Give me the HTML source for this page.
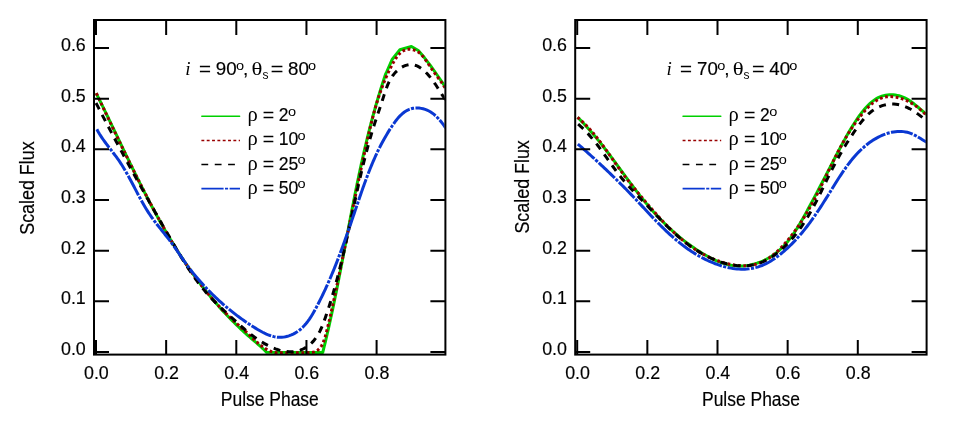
<!DOCTYPE html>
<html><head><meta charset="utf-8"><title>Pulse profiles</title>
<style>
html,body{margin:0;padding:0;background:#fff;}
svg{display:block;}
text{font-family:"Liberation Sans",sans-serif;font-size:19px;fill:#000;stroke:#000;stroke-width:0.18px;filter:grayscale(1);}
text.si{font-family:"Liberation Serif",serif;font-style:italic;font-size:19px;stroke:none;}
text.sr{font-family:"Liberation Serif",serif;font-size:19px;stroke:none;}
text.sm{font-size:13px;stroke:none;}
text.lb{font-size:19.5px;}
</style></head>
<body>
<svg  width="969" height="424" viewBox="0 0 969 424">
<rect width="969" height="424" fill="#fff"/>
<defs>
<clipPath id="cl"><rect x="93" y="19" width="351.6" height="336.6"/></clipPath>
<clipPath id="cr"><rect x="574.2" y="19" width="351.6" height="336.6"/></clipPath>
</defs>
<g clip-path="url(#cl)">
<path d="M96.21 93.29 L97.11 95.08 L98.00 96.88 L98.90 98.68 L99.79 100.48 L100.68 102.28 L101.56 104.08 L102.45 105.89 L103.33 107.70 L104.21 109.51 L105.10 111.32 L105.98 113.13 L106.85 114.94 L107.73 116.76 L108.61 118.57 L109.48 120.39 L110.36 122.21 L111.23 124.03 L112.11 125.85 L112.98 127.67 L113.85 129.49 L114.73 131.31 L115.60 133.13 L116.47 134.96 L117.34 136.78 L118.22 138.60 L119.09 140.43 L119.96 142.25 L120.83 144.08 L121.71 145.90 L122.58 147.73 L123.46 149.55 L124.33 151.38 L125.21 153.20 L126.09 155.03 L126.97 156.85 L127.85 158.67 L128.73 160.50 L129.61 162.32 L130.50 164.14 L131.38 165.96 L132.27 167.78 L133.16 169.60 L134.05 171.42 L134.94 173.24 L135.84 175.06 L136.74 176.87 L137.64 178.69 L138.54 180.50 L139.44 182.32 L140.35 184.13 L141.26 185.94 L142.17 187.74 L143.09 189.55 L144.01 191.35 L144.93 193.16 L145.85 194.96 L146.78 196.76 L147.71 198.55 L148.65 200.35 L149.58 202.14 L150.53 203.93 L151.47 205.72 L152.42 207.51 L153.37 209.29 L154.33 211.07 L155.29 212.85 L156.26 214.63 L157.23 216.40 L158.20 218.17 L159.18 219.94 L160.17 221.70 L161.15 223.46 L162.15 225.22 L163.14 226.98 L164.15 228.73 L165.15 230.48 L166.17 232.23 L167.19 233.97 L168.21 235.71 L169.24 237.44 L170.27 239.18 L171.32 240.90 L172.36 242.63 L173.41 244.35 L174.47 246.07 L175.54 247.78 L176.61 249.49 L177.68 251.19 L178.77 252.89 L179.86 254.59 L180.95 256.28 L182.06 257.97 L183.17 259.65 L184.28 261.33 L185.41 263.00 L186.54 264.67 L187.67 266.33 L188.82 267.99 L189.97 269.65 L191.13 271.30 L192.30 272.94 L193.47 274.58 L194.66 276.21 L195.85 277.84 L197.04 279.47 L198.25 281.08 L199.46 282.69 L200.68 284.30 L201.91 285.90 L203.15 287.49 L204.39 289.08 L205.64 290.66 L206.90 292.24 L208.17 293.81 L209.45 295.37 L210.73 296.93 L212.03 298.48 L213.33 300.02 L214.63 301.56 L215.95 303.08 L217.28 304.61 L218.61 306.12 L219.95 307.63 L221.30 309.13 L222.66 310.62 L224.03 312.11 L225.41 313.58 L226.79 315.05 L228.18 316.52 L229.59 317.97 L231.00 319.41 L232.42 320.85 L233.85 322.28 L235.28 323.70 L236.73 325.12 L238.18 326.52 L239.65 327.92 L241.12 329.30 L242.60 330.68 L244.09 332.05 L245.59 333.41 L247.10 334.76 L248.62 336.10 L250.14 337.43 L251.68 338.76 L253.21 340.09 L254.75 341.41 L256.28 342.74 L257.80 344.07 L259.32 345.41 L260.82 346.76 L262.31 348.13 L263.78 349.51 L265.23 350.92 L266.66 352.34 L322.69 352.59 L323.18 350.64 L323.67 348.68 L324.15 346.73 L324.63 344.77 L325.10 342.81 L325.57 340.85 L326.03 338.89 L326.50 336.93 L326.95 334.97 L327.41 333.01 L327.86 331.05 L328.31 329.08 L328.75 327.12 L329.20 325.15 L329.63 323.18 L330.07 321.22 L330.50 319.25 L330.93 317.28 L331.36 315.31 L331.78 313.34 L332.20 311.37 L332.62 309.39 L333.04 307.42 L333.45 305.45 L333.86 303.48 L334.27 301.50 L334.68 299.53 L335.08 297.55 L335.48 295.57 L335.88 293.60 L336.28 291.62 L336.68 289.64 L337.07 287.67 L337.47 285.69 L337.86 283.71 L338.25 281.73 L338.63 279.75 L339.02 277.77 L339.41 275.79 L339.79 273.81 L340.17 271.83 L340.56 269.85 L340.94 267.86 L341.32 265.88 L341.69 263.90 L342.07 261.92 L342.45 259.93 L342.83 257.95 L343.20 255.97 L343.58 253.99 L343.95 252.00 L344.33 250.02 L344.70 248.04 L345.08 246.05 L345.45 244.07 L345.82 242.09 L346.20 240.10 L346.57 238.12 L346.94 236.14 L347.32 234.15 L347.69 232.17 L348.07 230.19 L348.44 228.20 L348.82 226.22 L349.20 224.24 L349.57 222.25 L349.95 220.27 L350.33 218.29 L350.71 216.31 L351.09 214.32 L351.47 212.34 L351.85 210.36 L352.24 208.38 L352.62 206.40 L353.01 204.42 L353.40 202.44 L353.78 200.46 L354.18 198.48 L354.57 196.50 L354.96 194.52 L355.36 192.54 L355.76 190.56 L356.16 188.59 L356.56 186.61 L356.96 184.63 L357.37 182.66 L357.77 180.68 L358.19 178.71 L358.60 176.73 L359.01 174.76 L359.43 172.79 L359.85 170.82 L360.27 168.84 L360.70 166.87 L361.13 164.90 L361.56 162.93 L362.00 160.96 L362.43 159.00 L362.87 157.03 L363.32 155.06 L363.77 153.10 L364.22 151.13 L364.67 149.17 L365.13 147.20 L365.59 145.24 L366.05 143.28 L366.52 141.32 L366.99 139.36 L367.47 137.40 L367.95 135.44 L368.43 133.49 L368.92 131.53 L369.41 129.58 L369.91 127.62 L370.41 125.67 L370.92 123.72 L371.43 121.77 L371.94 119.82 L372.46 117.87 L372.98 115.92 L373.51 113.98 L374.05 112.03 L374.58 110.09 L375.13 108.15 L375.67 106.21 L376.23 104.27 L376.79 102.33 L377.35 100.39 L377.92 98.46 L378.49 96.52 L379.07 94.59 L379.66 92.66 L380.25 90.73 L380.85 88.80 L381.45 86.87 L382.06 84.95 L382.68 83.02 L383.30 81.10 L383.92 79.18 L384.56 77.26 L385.20 75.34 L385.84 73.42 L386.00 73.50 L392.30 59.20 L399.90 49.80 L411.40 46.50 L418.30 50.50 L424.50 57.80 L430.50 65.60 L437.50 75.50 L444.30 85.50 L446.00 88.00" fill="none" stroke="#00d000" stroke-width="3.0" stroke-linejoin="round"/>
<path d="M96.30 93.20 L97.17 95.02 L98.03 96.85 L98.90 98.67 L99.77 100.49 L100.64 102.31 L101.50 104.14 L102.37 105.96 L103.24 107.78 L104.10 109.60 L104.97 111.43 L105.84 113.25 L106.70 115.07 L107.57 116.89 L108.44 118.71 L109.30 120.54 L110.17 122.36 L111.04 124.18 L111.91 126.00 L112.78 127.82 L113.65 129.64 L114.52 131.46 L115.39 133.28 L116.26 135.10 L117.14 136.92 L118.01 138.73 L118.89 140.55 L119.76 142.37 L120.64 144.18 L121.52 146.00 L122.40 147.81 L123.28 149.63 L124.16 151.44 L125.05 153.26 L125.93 155.07 L126.82 156.88 L127.71 158.69 L128.60 160.50 L129.49 162.31 L130.38 164.12 L131.28 165.93 L132.17 167.73 L133.07 169.54 L133.97 171.34 L134.88 173.15 L135.78 174.95 L136.69 176.75 L137.60 178.55 L138.51 180.35 L139.42 182.15 L140.34 183.95 L141.26 185.75 L142.18 187.54 L143.10 189.33 L144.03 191.13 L144.96 192.92 L145.89 194.71 L146.83 196.50 L147.76 198.28 L148.70 200.07 L149.65 201.85 L150.59 203.64 L151.54 205.42 L152.50 207.20 L153.45 208.98 L154.41 210.76 L155.37 212.53 L156.34 214.31 L157.31 216.08 L158.28 217.85 L159.26 219.62 L160.24 221.39 L161.22 223.15 L162.21 224.91 L163.20 226.68 L164.20 228.43 L165.20 230.19 L166.20 231.95 L167.21 233.70 L168.23 235.44 L169.25 237.19 L170.27 238.93 L171.30 240.67 L172.34 242.41 L173.38 244.14 L174.43 245.86 L175.48 247.59 L176.54 249.31 L177.60 251.02 L178.67 252.73 L179.75 254.44 L180.83 256.14 L181.93 257.84 L183.02 259.53 L184.13 261.22 L185.24 262.90 L186.36 264.57 L187.49 266.24 L188.62 267.91 L189.76 269.56 L190.91 271.22 L192.07 272.86 L193.24 274.50 L194.41 276.13 L195.60 277.76 L196.79 279.38 L197.99 280.99 L199.20 282.60 L200.42 284.19 L201.65 285.78 L202.89 287.37 L204.14 288.94 L205.39 290.51 L206.66 292.07 L207.94 293.62 L209.23 295.16 L210.52 296.70 L211.83 298.22 L213.15 299.74 L214.48 301.25 L215.82 302.75 L217.17 304.23 L218.53 305.71 L219.91 307.18 L221.29 308.65 L222.69 310.10 L224.10 311.54 L225.52 312.97 L226.95 314.39 L228.40 315.80 L229.86 317.20 L231.33 318.59 L232.81 319.96 L234.31 321.33 L235.81 322.69 L237.32 324.05 L238.84 325.40 L240.36 326.75 L241.87 328.11 L243.39 329.47 L244.89 330.84 L246.39 332.22 L247.88 333.61 L249.35 335.02 L250.82 336.42 L252.29 337.83 L253.76 339.23 L255.24 340.61 L256.73 341.96 L258.23 343.29 L259.76 344.57 L261.31 345.81 L262.89 346.99 L264.51 348.10 L266.17 349.12 L267.89 350.05 L269.67 350.88 L271.51 351.59 L273.42 352.16 L275.41 352.60 L277.48 352.89 L309.81 352.61 L312.16 352.40 L314.25 351.91 L316.09 351.15 L317.71 350.16 L319.13 348.96 L320.37 347.57 L321.45 346.02 L322.39 344.33 L323.21 342.53 L323.94 340.63 L324.58 338.68 L325.18 336.68 L325.73 334.67 L326.27 332.66 L326.80 330.66 L327.31 328.67 L327.81 326.68 L328.30 324.70 L328.78 322.73 L329.25 320.75 L329.71 318.79 L330.16 316.82 L330.60 314.86 L331.04 312.90 L331.47 310.94 L331.90 308.99 L332.33 307.03 L332.75 305.07 L333.17 303.12 L333.59 301.16 L334.01 299.20 L334.43 297.24 L334.84 295.28 L335.26 293.32 L335.67 291.36 L336.09 289.40 L336.50 287.43 L336.92 285.47 L337.33 283.50 L337.74 281.54 L338.15 279.57 L338.56 277.60 L338.97 275.63 L339.38 273.66 L339.79 271.69 L340.20 269.72 L340.61 267.75 L341.01 265.78 L341.42 263.81 L341.83 261.84 L342.24 259.86 L342.64 257.89 L343.05 255.92 L343.45 253.94 L343.86 251.97 L344.26 249.99 L344.67 248.02 L345.07 246.04 L345.48 244.06 L345.88 242.09 L346.29 240.11 L346.69 238.13 L347.10 236.15 L347.50 234.18 L347.91 232.20 L348.31 230.22 L348.72 228.24 L349.12 226.26 L349.53 224.28 L349.93 222.31 L350.34 220.33 L350.74 218.35 L351.15 216.37 L351.56 214.39 L351.96 212.41 L352.37 210.43 L352.78 208.46 L353.19 206.48 L353.60 204.50 L354.00 202.52 L354.41 200.54 L354.82 198.57 L355.23 196.59 L355.65 194.61 L356.06 192.63 L356.47 190.66 L356.88 188.68 L357.30 186.70 L357.71 184.73 L358.13 182.75 L358.54 180.78 L358.96 178.80 L359.38 176.83 L359.79 174.86 L360.21 172.88 L360.63 170.91 L361.05 168.94 L361.48 166.97 L361.90 165.00 L362.32 163.03 L362.75 161.06 L363.17 159.09 L363.60 157.12 L364.03 155.15 L364.46 153.19 L364.89 151.22 L365.32 149.25 L365.76 147.29 L366.19 145.33 L366.63 143.36 L367.06 141.40 L367.50 139.44 L367.94 137.48 L368.39 135.52 L368.83 133.56 L369.28 131.61 L369.74 129.65 L370.20 127.70 L370.66 125.75 L371.14 123.80 L371.61 121.85 L372.10 119.90 L372.60 117.96 L373.10 116.02 L373.61 114.08 L374.13 112.14 L374.67 110.20 L375.21 108.27 L375.77 106.34 L376.33 104.41 L376.92 102.49 L377.51 100.57 L378.12 98.65 L378.74 96.73 L379.38 94.82 L380.03 92.91 L380.70 91.00 L381.39 89.10 L382.10 87.20 L382.82 85.31 L383.56 83.42 L384.32 81.53 L385.11 79.65 L385.91 77.77 L386.73 75.89 L387.58 74.02 L388.44 72.16 L389.34 70.30 L390.25 68.44 L391.19 66.59 L392.15 64.74 L393.14 62.90 L394.17 61.08 L395.23 59.32 L396.35 57.62 L397.53 56.02 L398.77 54.53 L400.10 53.18 L401.51 52.00 L403.02 51.00 L404.64 50.20 L406.37 49.65 L408.22 49.34 L410.21 49.31 L412.31 49.57 L414.43 50.12 L416.46 50.94 L418.31 52.02 L419.97 53.31 L421.47 54.75 L422.85 56.31 L424.13 57.91 L425.34 59.54 L426.49 61.18 L427.61 62.83 L428.70 64.48 L429.80 66.14 L430.91 67.79 L432.05 69.43 L433.21 71.06 L434.39 72.69 L435.58 74.32 L436.78 75.94 L437.98 77.57 L439.18 79.20 L440.37 80.84 L441.54 82.49 L442.69 84.15 L443.82 85.82 L444.91 87.51 L445.97 89.21" fill="none" stroke="#990000" stroke-width="3.0" stroke-dasharray="2.8 2.53" stroke-linejoin="round"/>
<path d="M95.69 102.29 L96.61 104.09 L97.53 105.88 L98.45 107.67 L99.37 109.46 L100.29 111.25 L101.22 113.04 L102.14 114.82 L103.07 116.61 L104.00 118.39 L104.93 120.18 L105.86 121.96 L106.79 123.74 L107.73 125.52 L108.66 127.30 L109.60 129.08 L110.54 130.86 L111.48 132.64 L112.42 134.41 L113.36 136.19 L114.30 137.97 L115.25 139.74 L116.19 141.51 L117.14 143.29 L118.09 145.06 L119.04 146.83 L119.99 148.60 L120.94 150.37 L121.90 152.14 L122.85 153.91 L123.81 155.67 L124.77 157.44 L125.72 159.21 L126.68 160.97 L127.65 162.74 L128.61 164.50 L129.57 166.26 L130.54 168.03 L131.50 169.79 L132.47 171.55 L133.44 173.31 L134.41 175.07 L135.38 176.83 L136.35 178.59 L137.32 180.34 L138.30 182.10 L139.27 183.86 L140.25 185.61 L141.23 187.37 L142.21 189.12 L143.19 190.88 L144.17 192.63 L145.15 194.39 L146.13 196.14 L147.12 197.89 L148.10 199.64 L149.09 201.39 L150.08 203.15 L151.06 204.90 L152.05 206.65 L153.05 208.40 L154.04 210.14 L155.03 211.89 L156.02 213.64 L157.02 215.39 L158.02 217.14 L159.01 218.88 L160.01 220.63 L161.01 222.37 L162.01 224.12 L163.01 225.87 L164.01 227.61 L165.02 229.35 L166.02 231.10 L167.03 232.84 L168.03 234.59 L169.04 236.33 L170.05 238.07 L171.06 239.81 L172.07 241.56 L173.08 243.30 L174.09 245.04 L175.11 246.78 L176.13 248.52 L177.15 250.25 L178.17 251.98 L179.20 253.71 L180.24 255.44 L181.28 257.16 L182.33 258.88 L183.38 260.59 L184.45 262.30 L185.52 264.01 L186.60 265.70 L187.68 267.39 L188.78 269.08 L189.89 270.75 L191.01 272.42 L192.14 274.08 L193.28 275.73 L194.44 277.37 L195.60 279.01 L196.79 280.63 L197.98 282.24 L199.19 283.85 L200.42 285.44 L201.66 287.02 L202.92 288.59 L204.20 290.14 L205.49 291.68 L206.80 293.21 L208.13 294.73 L209.48 296.23 L210.85 297.72 L212.24 299.19 L213.65 300.65 L215.08 302.09 L216.52 303.52 L217.98 304.94 L219.45 306.35 L220.92 307.74 L222.40 309.12 L223.89 310.50 L225.37 311.86 L226.86 313.22 L228.34 314.57 L229.81 315.91 L231.28 317.24 L232.73 318.57 L234.18 319.90 L235.61 321.22 L237.04 322.53 L238.48 323.84 L239.91 325.14 L241.35 326.43 L242.81 327.72 L244.27 329.00 L245.76 330.27 L247.27 331.53 L248.80 332.78 L250.36 334.03 L251.96 335.26 L253.59 336.48 L255.26 337.69 L256.97 338.89 L258.71 340.06 L260.49 341.21 L262.29 342.32 L264.12 343.40 L265.97 344.43 L267.84 345.42 L269.73 346.36 L271.64 347.24 L273.56 348.05 L275.48 348.81 L277.42 349.48 L279.36 350.09 L281.31 350.61 L283.25 351.04 L285.19 351.38 L287.13 351.62 L289.05 351.77 L290.97 351.80 L292.88 351.72 L294.76 351.53 L296.63 351.21 L298.48 350.77 L300.30 350.20 L302.10 349.48 L303.87 348.63 L305.60 347.65 L307.28 346.54 L308.91 345.32 L310.46 344.01 L311.94 342.60 L313.34 341.13 L314.64 339.59 L315.85 337.98 L316.98 336.33 L318.03 334.62 L319.02 332.88 L319.94 331.09 L320.81 329.27 L321.63 327.41 L322.40 325.54 L323.15 323.64 L323.86 321.73 L324.56 319.82 L325.23 317.89 L325.90 315.97 L326.56 314.04 L327.21 312.12 L327.85 310.20 L328.48 308.27 L329.10 306.34 L329.72 304.42 L330.32 302.49 L330.92 300.56 L331.51 298.63 L332.09 296.71 L332.67 294.78 L333.23 292.85 L333.79 290.92 L334.34 288.98 L334.89 287.05 L335.43 285.12 L335.96 283.19 L336.49 281.25 L337.01 279.32 L337.52 277.38 L338.03 275.44 L338.54 273.50 L339.03 271.57 L339.53 269.63 L340.01 267.69 L340.50 265.74 L340.97 263.80 L341.45 261.86 L341.92 259.91 L342.38 257.97 L342.84 256.02 L343.30 254.07 L343.76 252.12 L344.21 250.17 L344.65 248.22 L345.10 246.27 L345.54 244.32 L345.98 242.36 L346.42 240.41 L346.85 238.45 L347.28 236.49 L347.72 234.53 L348.14 232.57 L348.57 230.60 L349.00 228.64 L349.42 226.68 L349.85 224.71 L350.27 222.74 L350.69 220.77 L351.12 218.80 L351.54 216.83 L351.96 214.86 L352.38 212.89 L352.81 210.92 L353.23 208.94 L353.65 206.97 L354.07 205.00 L354.50 203.02 L354.93 201.05 L355.35 199.08 L355.78 197.11 L356.21 195.13 L356.64 193.16 L357.08 191.19 L357.51 189.22 L357.95 187.24 L358.39 185.27 L358.83 183.30 L359.28 181.34 L359.73 179.37 L360.18 177.40 L360.64 175.44 L361.09 173.47 L361.56 171.51 L362.02 169.55 L362.49 167.59 L362.97 165.63 L363.45 163.67 L363.93 161.72 L364.42 159.77 L364.91 157.82 L365.40 155.87 L365.91 153.92 L366.42 151.98 L366.93 150.04 L367.45 148.10 L367.97 146.16 L368.50 144.23 L369.04 142.30 L369.58 140.37 L370.13 138.44 L370.69 136.52 L371.25 134.60 L371.82 132.69 L372.40 130.77 L372.98 128.86 L373.58 126.96 L374.18 125.06 L374.78 123.16 L375.40 121.26 L376.02 119.37 L376.65 117.48 L377.28 115.59 L377.92 113.70 L378.56 111.80 L379.20 109.90 L379.84 108.00 L380.48 106.09 L381.12 104.17 L381.76 102.24 L382.40 100.30 L383.03 98.35 L383.66 96.39 L384.28 94.42 L384.92 92.45 L385.58 90.49 L386.27 88.54 L387.00 86.60 L387.77 84.69 L388.61 82.81 L389.50 80.97 L390.48 79.17 L391.53 77.43 L392.68 75.74 L393.93 74.11 L395.29 72.56 L396.75 71.10 L398.28 69.74 L399.89 68.50 L401.57 67.40 L403.29 66.45 L405.05 65.68 L406.84 65.09 L408.64 64.71 L410.44 64.54 L412.24 64.61 L414.02 64.92 L415.78 65.46 L417.52 66.19 L419.23 67.11 L420.91 68.20 L422.56 69.43 L424.16 70.79 L425.73 72.26 L427.25 73.82 L428.72 75.45 L430.14 77.14 L431.50 78.86 L432.80 80.60 L434.04 82.33 L435.23 84.05 L436.36 85.77 L437.46 87.47 L438.53 89.16 L439.59 90.83 L440.63 92.48 L441.67 94.10 L442.71 95.71 L443.78 97.28 L444.87 98.82 L445.99 100.33" fill="none" stroke="#000" stroke-width="3.0" stroke-dasharray="7 6.37" stroke-dashoffset="-0.8"/>
<path d="M96.69 128.95 L97.63 130.72 L98.62 132.47 L99.66 134.20 L100.73 135.89 L101.84 137.57 L102.98 139.23 L104.14 140.87 L105.33 142.50 L106.53 144.11 L107.75 145.72 L108.98 147.32 L110.22 148.92 L111.46 150.52 L112.69 152.11 L113.92 153.72 L115.14 155.32 L116.34 156.94 L117.52 158.57 L118.69 160.22 L119.82 161.88 L120.93 163.56 L122.02 165.25 L123.08 166.95 L124.13 168.67 L125.15 170.40 L126.16 172.14 L127.16 173.89 L128.14 175.65 L129.11 177.41 L130.07 179.18 L131.02 180.96 L131.96 182.74 L132.90 184.52 L133.83 186.31 L134.76 188.09 L135.69 189.88 L136.62 191.66 L137.56 193.44 L138.50 195.22 L139.44 196.99 L140.40 198.76 L141.36 200.52 L142.34 202.28 L143.32 204.02 L144.32 205.76 L145.34 207.48 L146.38 209.20 L147.43 210.89 L148.51 212.58 L149.61 214.25 L150.73 215.90 L151.87 217.54 L153.05 219.16 L154.24 220.77 L155.44 222.37 L156.67 223.96 L157.90 225.54 L159.15 227.11 L160.40 228.68 L161.65 230.25 L162.91 231.81 L164.17 233.38 L165.42 234.94 L166.67 236.52 L167.91 238.10 L169.14 239.68 L170.35 241.28 L171.55 242.89 L172.73 244.51 L173.89 246.14 L175.05 247.78 L176.19 249.42 L177.32 251.07 L178.45 252.73 L179.58 254.39 L180.71 256.05 L181.84 257.70 L182.97 259.36 L184.12 261.01 L185.27 262.65 L186.44 264.29 L187.62 265.92 L188.82 267.53 L190.03 269.14 L191.26 270.74 L192.51 272.32 L193.77 273.90 L195.04 275.46 L196.33 277.01 L197.64 278.55 L198.96 280.09 L200.29 281.60 L201.63 283.11 L202.99 284.61 L204.36 286.09 L205.74 287.57 L207.14 289.03 L208.54 290.48 L209.96 291.91 L211.39 293.34 L212.83 294.75 L214.28 296.15 L215.74 297.54 L217.20 298.91 L218.68 300.28 L220.17 301.62 L221.67 302.96 L223.17 304.28 L224.68 305.59 L226.20 306.89 L227.73 308.17 L229.26 309.44 L230.81 310.70 L232.36 311.94 L233.92 313.17 L235.49 314.39 L237.08 315.59 L238.67 316.79 L240.28 317.97 L241.90 319.14 L243.54 320.30 L245.19 321.44 L246.85 322.58 L248.53 323.71 L250.23 324.82 L251.95 325.92 L253.68 327.02 L255.44 328.10 L257.21 329.18 L259.00 330.23 L260.81 331.25 L262.63 332.23 L264.48 333.16 L266.33 334.02 L268.21 334.81 L270.09 335.51 L271.99 336.11 L273.91 336.61 L275.83 337.00 L277.76 337.25 L279.71 337.36 L281.66 337.33 L283.62 337.13 L285.58 336.79 L287.52 336.31 L289.44 335.70 L291.34 334.96 L293.19 334.10 L294.99 333.14 L296.73 332.09 L298.41 330.94 L300.01 329.71 L301.53 328.41 L302.97 327.04 L304.35 325.60 L305.67 324.11 L306.92 322.56 L308.13 320.97 L309.28 319.33 L310.39 317.66 L311.47 315.95 L312.51 314.22 L313.52 312.47 L314.51 310.70 L315.48 308.92 L316.44 307.13 L317.39 305.34 L318.33 303.55 L319.25 301.75 L320.16 299.94 L321.06 298.13 L321.96 296.32 L322.84 294.51 L323.71 292.69 L324.57 290.86 L325.42 289.03 L326.26 287.20 L327.09 285.37 L327.91 283.53 L328.73 281.69 L329.53 279.84 L330.33 277.99 L331.11 276.14 L331.89 274.29 L332.67 272.43 L333.43 270.57 L334.19 268.71 L334.94 266.84 L335.68 264.98 L336.42 263.11 L337.15 261.23 L337.88 259.36 L338.60 257.48 L339.31 255.60 L340.02 253.72 L340.72 251.84 L341.42 249.95 L342.11 248.07 L342.80 246.18 L343.48 244.29 L344.16 242.40 L344.84 240.51 L345.51 238.61 L346.18 236.72 L346.85 234.82 L347.51 232.92 L348.17 231.03 L348.83 229.13 L349.48 227.23 L350.14 225.33 L350.79 223.43 L351.44 221.53 L352.09 219.63 L352.74 217.72 L353.38 215.82 L354.03 213.92 L354.68 212.02 L355.32 210.12 L355.97 208.22 L356.61 206.31 L357.26 204.41 L357.91 202.51 L358.56 200.61 L359.21 198.71 L359.86 196.82 L360.51 194.92 L361.17 193.02 L361.83 191.13 L362.49 189.23 L363.16 187.34 L363.83 185.45 L364.51 183.57 L365.19 181.68 L365.88 179.80 L366.58 177.92 L367.29 176.04 L368.00 174.17 L368.72 172.30 L369.46 170.43 L370.20 168.57 L370.95 166.71 L371.71 164.85 L372.49 163.00 L373.28 161.16 L374.08 159.32 L374.89 157.48 L375.72 155.65 L376.56 153.82 L377.42 152.00 L378.29 150.19 L379.18 148.38 L380.08 146.57 L381.01 144.78 L381.95 142.99 L382.91 141.20 L383.89 139.43 L384.88 137.66 L385.90 135.90 L386.94 134.14 L388.00 132.39 L389.08 130.66 L390.18 128.92 L391.31 127.20 L392.46 125.49 L393.64 123.78 L394.84 122.11 L396.08 120.46 L397.35 118.87 L398.67 117.34 L400.03 115.88 L401.44 114.50 L402.91 113.23 L404.44 112.06 L406.02 111.02 L407.68 110.11 L409.41 109.36 L411.21 108.76 L413.09 108.33 L415.04 108.08 L417.04 108.01 L419.07 108.10 L421.11 108.36 L423.13 108.78 L425.12 109.36 L427.05 110.10 L428.91 110.99 L430.69 112.01 L432.40 113.16 L434.03 114.42 L435.58 115.77 L437.07 117.20 L438.49 118.69 L439.85 120.23 L441.15 121.80 L442.39 123.38 L443.57 124.96 L444.70 126.53 L445.78 128.06" fill="none" stroke="#0a38d2" stroke-width="3.0" stroke-dasharray="22.1 1.42 3.1 1.42" stroke-dashoffset="-0.4"/>
</g>
<g clip-path="url(#cr)">
<path d="M577.64 117.33 L579.06 118.73 L580.47 120.15 L581.86 121.58 L583.25 123.02 L584.62 124.48 L585.98 125.94 L587.32 127.42 L588.66 128.91 L589.99 130.41 L591.30 131.92 L592.60 133.43 L593.90 134.96 L595.19 136.50 L596.46 138.04 L597.73 139.59 L598.99 141.15 L600.25 142.72 L601.49 144.29 L602.73 145.87 L603.97 147.46 L605.19 149.05 L606.42 150.65 L607.63 152.25 L608.85 153.86 L610.05 155.47 L611.26 157.08 L612.46 158.70 L613.66 160.31 L614.86 161.94 L616.05 163.56 L617.24 165.18 L618.43 166.81 L619.62 168.44 L620.81 170.07 L622.00 171.69 L623.19 173.32 L624.38 174.95 L625.58 176.57 L626.77 178.19 L627.97 179.81 L629.16 181.43 L630.37 183.05 L631.57 184.66 L632.78 186.27 L633.99 187.87 L635.21 189.47 L636.43 191.07 L637.66 192.66 L638.89 194.24 L640.13 195.82 L641.38 197.39 L642.63 198.96 L643.89 200.52 L645.16 202.07 L646.44 203.61 L647.73 205.14 L649.02 206.67 L650.33 208.18 L651.64 209.69 L652.96 211.19 L654.30 212.67 L655.64 214.15 L656.99 215.62 L658.36 217.08 L659.73 218.52 L661.12 219.96 L662.52 221.39 L663.92 222.80 L665.34 224.21 L666.78 225.60 L668.22 226.98 L669.68 228.35 L671.15 229.71 L672.63 231.05 L674.12 232.38 L675.63 233.70 L677.15 235.01 L678.68 236.31 L680.23 237.59 L681.79 238.85 L683.37 240.11 L684.96 241.35 L686.56 242.58 L688.18 243.79 L689.82 244.99 L691.47 246.17 L693.13 247.34 L694.81 248.49 L696.51 249.63 L698.22 250.75 L699.95 251.86 L701.70 252.95 L703.46 254.01 L705.23 255.05 L707.02 256.07 L708.82 257.05 L710.64 257.99 L712.47 258.90 L714.32 259.77 L716.17 260.60 L718.04 261.38 L719.92 262.11 L721.81 262.78 L723.71 263.41 L725.62 263.97 L727.54 264.47 L729.48 264.91 L731.42 265.28 L733.37 265.58 L735.32 265.81 L737.29 265.96 L739.26 266.03 L741.24 266.02 L743.23 265.93 L745.21 265.76 L747.20 265.51 L749.18 265.19 L751.15 264.80 L753.11 264.33 L755.06 263.80 L756.99 263.20 L758.91 262.53 L760.80 261.80 L762.67 261.01 L764.52 260.16 L766.33 259.25 L768.11 258.28 L769.85 257.26 L771.56 256.19 L773.23 255.07 L774.85 253.90 L776.43 252.68 L777.97 251.42 L779.47 250.11 L780.93 248.77 L782.36 247.38 L783.75 245.96 L785.10 244.50 L786.43 243.00 L787.72 241.48 L788.98 239.92 L790.22 238.34 L791.42 236.73 L792.60 235.09 L793.76 233.43 L794.90 231.75 L796.01 230.05 L797.10 228.34 L798.18 226.60 L799.24 224.86 L800.28 223.10 L801.30 221.33 L802.32 219.55 L803.32 217.77 L804.31 215.98 L805.30 214.19 L806.27 212.40 L807.24 210.61 L808.21 208.82 L809.17 207.03 L810.13 205.25 L811.08 203.47 L812.03 201.69 L812.98 199.92 L813.92 198.15 L814.87 196.38 L815.80 194.61 L816.74 192.85 L817.67 191.08 L818.60 189.32 L819.53 187.56 L820.46 185.79 L821.38 184.03 L822.30 182.27 L823.22 180.51 L824.14 178.75 L825.05 176.99 L825.97 175.23 L826.88 173.47 L827.79 171.70 L828.70 169.94 L829.61 168.17 L830.52 166.40 L831.43 164.63 L832.34 162.86 L833.25 161.09 L834.16 159.32 L835.08 157.55 L836.00 155.78 L836.92 154.01 L837.85 152.24 L838.78 150.47 L839.71 148.70 L840.66 146.93 L841.61 145.16 L842.56 143.40 L843.53 141.64 L844.50 139.88 L845.48 138.12 L846.47 136.36 L847.47 134.61 L848.49 132.86 L849.51 131.12 L850.55 129.38 L851.59 127.64 L852.66 125.90 L853.73 124.17 L854.82 122.45 L855.93 120.74 L857.06 119.04 L858.22 117.36 L859.40 115.69 L860.61 114.05 L861.85 112.44 L863.12 110.85 L864.43 109.29 L865.78 107.77 L867.17 106.29 L868.60 104.84 L870.08 103.45 L871.60 102.10 L873.18 100.84 L874.80 99.66 L876.48 98.60 L878.22 97.66 L880.00 96.86 L881.82 96.18 L883.69 95.63 L885.58 95.22 L887.50 94.93 L889.43 94.76 L891.38 94.73 L893.33 94.81 L895.28 95.03 L897.23 95.36 L899.16 95.82 L901.07 96.40 L902.96 97.10 L904.82 97.92 L906.63 98.85 L908.41 99.90 L910.16 101.03 L911.87 102.24 L913.54 103.50 L915.19 104.81 L916.81 106.14 L918.40 107.49 L919.96 108.83 L921.50 110.14 L923.01 111.42 L924.51 112.65 L925.98 113.80 L927.44 114.87" fill="none" stroke="#00d000" stroke-width="3.0"/>
<path d="M577.49 117.41 L579.04 118.72 L580.57 120.05 L582.06 121.41 L583.53 122.80 L584.97 124.21 L586.38 125.64 L587.78 127.09 L589.14 128.56 L590.49 130.05 L591.82 131.55 L593.12 133.08 L594.41 134.62 L595.69 136.17 L596.94 137.74 L598.18 139.32 L599.41 140.91 L600.62 142.51 L601.83 144.12 L603.02 145.74 L604.20 147.37 L605.38 149.00 L606.55 150.64 L607.71 152.29 L608.87 153.93 L610.02 155.58 L611.18 157.23 L612.33 158.88 L613.48 160.53 L614.63 162.18 L615.79 163.83 L616.95 165.47 L618.11 167.10 L619.28 168.74 L620.46 170.36 L621.64 171.97 L622.83 173.58 L624.03 175.18 L625.24 176.78 L626.45 178.36 L627.67 179.94 L628.90 181.52 L630.14 183.09 L631.38 184.65 L632.62 186.21 L633.88 187.77 L635.14 189.32 L636.40 190.87 L637.67 192.41 L638.95 193.95 L640.23 195.49 L641.51 197.03 L642.80 198.56 L644.10 200.09 L645.40 201.62 L646.70 203.15 L648.01 204.68 L649.32 206.21 L650.64 207.74 L651.96 209.26 L653.29 210.79 L654.62 212.30 L655.96 213.82 L657.31 215.32 L658.67 216.83 L660.03 218.32 L661.40 219.81 L662.78 221.28 L664.16 222.75 L665.56 224.21 L666.97 225.66 L668.38 227.09 L669.81 228.51 L671.25 229.92 L672.70 231.32 L674.16 232.70 L675.63 234.06 L677.12 235.41 L678.62 236.74 L680.14 238.05 L681.67 239.35 L683.21 240.62 L684.77 241.88 L686.34 243.11 L687.93 244.32 L689.53 245.51 L691.16 246.67 L692.80 247.81 L694.45 248.93 L696.13 250.02 L697.82 251.08 L699.54 252.11 L701.27 253.12 L703.02 254.10 L704.79 255.04 L706.58 255.96 L708.40 256.85 L710.23 257.70 L712.09 258.52 L713.97 259.31 L715.87 260.06 L717.80 260.78 L719.75 261.46 L721.71 262.10 L723.69 262.70 L725.69 263.25 L727.70 263.75 L729.72 264.21 L731.74 264.61 L733.76 264.95 L735.79 265.24 L737.82 265.47 L739.83 265.63 L741.85 265.73 L743.85 265.75 L745.84 265.71 L747.81 265.59 L749.77 265.40 L751.70 265.12 L753.61 264.77 L755.50 264.33 L757.36 263.80 L759.18 263.18 L760.98 262.48 L762.74 261.68 L764.47 260.81 L766.17 259.87 L767.84 258.85 L769.48 257.76 L771.10 256.61 L772.68 255.40 L774.24 254.13 L775.77 252.82 L777.27 251.45 L778.75 250.05 L780.20 248.60 L781.63 247.13 L783.03 245.62 L784.41 244.09 L785.77 242.53 L787.10 240.96 L788.41 239.37 L789.70 237.78 L790.97 236.17 L792.22 234.55 L793.45 232.93 L794.66 231.29 L795.85 229.65 L797.02 227.99 L798.18 226.33 L799.32 224.66 L800.44 222.98 L801.54 221.29 L802.63 219.60 L803.71 217.90 L804.77 216.19 L805.81 214.47 L806.84 212.75 L807.86 211.02 L808.87 209.29 L809.86 207.55 L810.85 205.81 L811.82 204.06 L812.78 202.30 L813.73 200.54 L814.67 198.78 L815.61 197.01 L816.53 195.24 L817.45 193.46 L818.36 191.68 L819.26 189.90 L820.16 188.11 L821.05 186.33 L821.94 184.54 L822.82 182.75 L823.70 180.95 L824.57 179.16 L825.44 177.36 L826.31 175.57 L827.18 173.77 L828.05 171.97 L828.91 170.17 L829.78 168.38 L830.65 166.58 L831.53 164.79 L832.40 163.00 L833.29 161.20 L834.17 159.42 L835.06 157.63 L835.96 155.85 L836.87 154.06 L837.79 152.29 L838.71 150.51 L839.64 148.74 L840.59 146.98 L841.54 145.22 L842.51 143.46 L843.49 141.71 L844.48 139.97 L845.49 138.23 L846.52 136.50 L847.56 134.78 L848.61 133.06 L849.69 131.35 L850.78 129.64 L851.89 127.95 L853.02 126.26 L854.18 124.58 L855.35 122.91 L856.55 121.25 L857.77 119.60 L859.01 117.96 L860.28 116.33 L861.57 114.71 L862.89 113.10 L864.24 111.51 L865.62 109.95 L867.02 108.43 L868.46 106.96 L869.93 105.55 L871.44 104.20 L872.98 102.94 L874.55 101.76 L876.17 100.68 L877.83 99.71 L879.52 98.86 L881.26 98.13 L883.04 97.55 L884.87 97.11 L886.73 96.81 L888.63 96.65 L890.56 96.62 L892.50 96.71 L894.46 96.92 L896.43 97.25 L898.40 97.69 L900.36 98.23 L902.32 98.87 L904.26 99.60 L906.18 100.42 L908.07 101.31 L909.93 102.29 L911.75 103.33 L913.52 104.44 L915.24 105.61 L916.91 106.82 L918.54 108.08 L920.11 109.36 L921.63 110.67 L923.10 111.98 L924.52 113.30 L925.89 114.60 L927.22 115.90" fill="none" stroke="#990000" stroke-width="3.0" stroke-dasharray="2.8 2.53"/>
<path d="M577.50 123.60 L579.06 124.92 L580.58 126.27 L582.07 127.65 L583.54 129.05 L584.97 130.48 L586.37 131.92 L587.75 133.39 L589.10 134.88 L590.43 136.39 L591.74 137.92 L593.02 139.46 L594.29 141.01 L595.54 142.59 L596.78 144.17 L598.00 145.76 L599.20 147.37 L600.40 148.99 L601.59 150.61 L602.77 152.24 L603.94 153.87 L605.11 155.51 L606.27 157.15 L607.43 158.80 L608.60 160.44 L609.76 162.09 L610.92 163.73 L612.09 165.37 L613.27 167.00 L614.45 168.63 L615.64 170.25 L616.84 171.87 L618.06 173.47 L619.28 175.07 L620.52 176.65 L621.78 178.22 L623.06 179.77 L624.35 181.32 L625.66 182.84 L626.99 184.36 L628.33 185.86 L629.69 187.36 L631.05 188.84 L632.43 190.32 L633.81 191.79 L635.20 193.25 L636.60 194.71 L638.00 196.16 L639.40 197.61 L640.81 199.06 L642.21 200.51 L643.62 201.96 L645.02 203.41 L646.42 204.86 L647.81 206.32 L649.20 207.77 L650.59 209.23 L651.97 210.69 L653.36 212.14 L654.74 213.60 L656.13 215.05 L657.51 216.50 L658.91 217.94 L660.30 219.38 L661.70 220.82 L663.10 222.25 L664.51 223.67 L665.92 225.08 L667.35 226.49 L668.78 227.88 L670.22 229.27 L671.67 230.64 L673.13 232.01 L674.60 233.36 L676.09 234.70 L677.59 236.02 L679.10 237.33 L680.62 238.63 L682.17 239.90 L683.73 241.17 L685.30 242.41 L686.90 243.64 L688.51 244.84 L690.15 246.03 L691.80 247.20 L693.48 248.34 L695.18 249.46 L696.90 250.56 L698.64 251.64 L700.41 252.69 L702.20 253.71 L704.01 254.71 L705.84 255.67 L707.69 256.60 L709.56 257.50 L711.44 258.37 L713.33 259.19 L715.24 259.98 L717.16 260.72 L719.09 261.42 L721.03 262.08 L722.98 262.69 L724.93 263.25 L726.89 263.76 L728.85 264.22 L730.82 264.63 L732.78 264.98 L734.75 265.27 L736.71 265.50 L738.68 265.68 L740.63 265.79 L742.59 265.83 L744.53 265.81 L746.47 265.72 L748.40 265.57 L750.32 265.34 L752.23 265.03 L754.13 264.65 L756.01 264.20 L757.87 263.67 L759.72 263.05 L761.55 262.36 L763.36 261.60 L765.16 260.76 L766.93 259.85 L768.68 258.89 L770.41 257.85 L772.13 256.77 L773.81 255.62 L775.48 254.43 L777.12 253.18 L778.73 251.90 L780.33 250.56 L781.89 249.19 L783.43 247.79 L784.94 246.35 L786.42 244.89 L787.87 243.39 L789.30 241.88 L790.69 240.35 L792.06 238.80 L793.39 237.23 L794.69 235.65 L795.97 234.06 L797.21 232.45 L798.43 230.83 L799.63 229.20 L800.80 227.55 L801.95 225.89 L803.07 224.23 L804.18 222.55 L805.26 220.86 L806.32 219.16 L807.37 217.45 L808.39 215.73 L809.40 214.01 L810.40 212.27 L811.38 210.53 L812.34 208.78 L813.29 207.02 L814.23 205.26 L815.16 203.50 L816.08 201.72 L817.00 199.94 L817.90 198.16 L818.79 196.38 L819.68 194.59 L820.57 192.79 L821.45 191.00 L822.33 189.20 L823.20 187.40 L824.08 185.60 L824.95 183.80 L825.83 182.00 L826.71 180.20 L827.59 178.40 L828.47 176.60 L829.36 174.80 L830.25 173.01 L831.15 171.21 L832.06 169.42 L832.98 167.64 L833.90 165.85 L834.84 164.07 L835.78 162.30 L836.73 160.53 L837.70 158.76 L838.67 157.00 L839.66 155.24 L840.65 153.49 L841.66 151.74 L842.67 150.00 L843.70 148.26 L844.74 146.53 L845.79 144.80 L846.85 143.08 L847.92 141.37 L849.01 139.66 L850.11 137.95 L851.22 136.26 L852.34 134.57 L853.48 132.89 L854.63 131.21 L855.79 129.54 L856.97 127.88 L858.16 126.23 L859.37 124.58 L860.59 122.95 L861.84 121.34 L863.11 119.76 L864.43 118.21 L865.78 116.71 L867.17 115.26 L868.62 113.87 L870.13 112.55 L871.69 111.30 L873.32 110.13 L875.01 109.05 L876.75 108.06 L878.54 107.17 L880.37 106.38 L882.23 105.69 L884.13 105.11 L886.06 104.64 L888.00 104.29 L889.96 104.06 L891.93 103.96 L893.91 103.99 L895.88 104.16 L897.85 104.45 L899.82 104.87 L901.76 105.41 L903.69 106.05 L905.60 106.79 L907.49 107.62 L909.34 108.54 L911.17 109.54 L912.96 110.60 L914.71 111.73 L916.43 112.89 L918.11 114.10 L919.76 115.33 L921.36 116.58 L922.93 117.83 L924.46 119.08 L925.95 120.32 L927.39 121.53" fill="none" stroke="#000" stroke-width="3.0" stroke-dasharray="7 6.37" stroke-dashoffset="-0.8"/>
<path d="M577.53 143.80 L579.04 145.11 L580.55 146.42 L582.05 147.74 L583.56 149.06 L585.06 150.39 L586.56 151.72 L588.06 153.06 L589.56 154.40 L591.06 155.75 L592.55 157.10 L594.04 158.46 L595.53 159.82 L597.01 161.18 L598.50 162.55 L599.98 163.92 L601.46 165.30 L602.93 166.68 L604.40 168.07 L605.87 169.45 L607.34 170.85 L608.80 172.25 L610.26 173.65 L611.72 175.05 L613.17 176.46 L614.62 177.87 L616.06 179.29 L617.51 180.71 L618.94 182.14 L620.38 183.56 L621.81 185.00 L623.24 186.43 L624.66 187.87 L626.08 189.31 L627.49 190.76 L628.90 192.21 L630.30 193.66 L631.71 195.12 L633.10 196.58 L634.49 198.04 L635.88 199.51 L637.26 200.97 L638.64 202.45 L640.02 203.92 L641.39 205.39 L642.76 206.86 L644.14 208.33 L645.51 209.81 L646.88 211.28 L648.25 212.74 L649.63 214.21 L651.01 215.67 L652.39 217.12 L653.77 218.57 L655.16 220.02 L656.55 221.46 L657.95 222.89 L659.36 224.32 L660.77 225.73 L662.19 227.14 L663.62 228.54 L665.06 229.93 L666.51 231.31 L667.97 232.68 L669.43 234.03 L670.91 235.38 L672.41 236.71 L673.91 238.02 L675.43 239.33 L676.96 240.61 L678.51 241.89 L680.07 243.14 L681.65 244.38 L683.25 245.60 L684.86 246.81 L686.49 247.99 L688.14 249.16 L689.81 250.30 L691.50 251.43 L693.21 252.53 L694.95 253.62 L696.70 254.68 L698.48 255.71 L700.27 256.73 L702.09 257.71 L703.93 258.67 L705.79 259.60 L707.67 260.50 L709.56 261.36 L711.46 262.19 L713.38 262.98 L715.31 263.74 L717.26 264.45 L719.21 265.12 L721.17 265.75 L723.14 266.33 L725.11 266.86 L727.09 267.34 L729.07 267.78 L731.05 268.15 L733.03 268.48 L735.02 268.74 L737.00 268.95 L738.98 269.10 L740.95 269.18 L742.92 269.20 L744.88 269.16 L746.83 269.05 L748.78 268.86 L750.71 268.61 L752.63 268.28 L754.54 267.88 L756.43 267.40 L758.31 266.85 L760.17 266.21 L762.01 265.50 L763.84 264.72 L765.64 263.87 L767.43 262.95 L769.20 261.98 L770.95 260.94 L772.68 259.86 L774.38 258.73 L776.07 257.55 L777.73 256.33 L779.38 255.07 L780.99 253.77 L782.59 252.45 L784.16 251.10 L785.71 249.73 L787.23 248.34 L788.73 246.93 L790.20 245.51 L791.65 244.08 L793.07 242.63 L794.47 241.17 L795.85 239.70 L797.21 238.22 L798.54 236.73 L799.86 235.22 L801.16 233.71 L802.44 232.18 L803.70 230.64 L804.94 229.09 L806.17 227.53 L807.38 225.96 L808.58 224.38 L809.77 222.79 L810.94 221.19 L812.10 219.58 L813.25 217.96 L814.39 216.33 L815.51 214.70 L816.63 213.05 L817.74 211.40 L818.85 209.74 L819.94 208.07 L821.04 206.39 L822.12 204.71 L823.20 203.02 L824.28 201.32 L825.35 199.61 L826.43 197.90 L827.50 196.18 L828.57 194.46 L829.64 192.73 L830.71 190.99 L831.79 189.25 L832.86 187.50 L833.95 185.76 L835.03 184.01 L836.12 182.27 L837.22 180.52 L838.33 178.78 L839.45 177.05 L840.57 175.33 L841.71 173.61 L842.86 171.90 L844.02 170.21 L845.19 168.53 L846.38 166.86 L847.59 165.22 L848.81 163.59 L850.05 161.97 L851.31 160.38 L852.59 158.82 L853.90 157.27 L855.22 155.76 L856.56 154.27 L857.93 152.81 L859.33 151.38 L860.75 149.98 L862.19 148.61 L863.67 147.28 L865.17 145.99 L866.71 144.73 L868.27 143.52 L869.87 142.34 L871.50 141.21 L873.16 140.12 L874.86 139.08 L876.59 138.08 L878.36 137.14 L880.17 136.24 L882.01 135.41 L883.88 134.64 L885.77 133.93 L887.69 133.30 L889.62 132.76 L891.57 132.29 L893.54 131.92 L895.51 131.65 L897.49 131.47 L899.48 131.41 L901.46 131.46 L903.44 131.62 L905.42 131.91 L907.39 132.33 L909.34 132.89 L911.28 133.59 L913.19 134.42 L915.09 135.37 L916.96 136.40 L918.80 137.48 L920.61 138.58 L922.38 139.66 L924.12 140.69 L925.81 141.64 L927.46 142.49" fill="none" stroke="#0a38d2" stroke-width="3.0" stroke-dasharray="22.1 1.42 3.1 1.42" stroke-dashoffset="-0.4"/>
</g>
<g transform="translate(0 0)">
<rect x="94.0" y="20.0" width="351.4" height="334.6" fill="none" stroke="#000" stroke-width="2"/>
<path d="M96.00 354.6 V340.1 M96.00 20.0 V35.0 M166.15 354.6 V340.1 M166.15 20.0 V35.0 M236.30 354.6 V340.1 M236.30 20.0 V35.0 M306.45 354.6 V340.1 M306.45 20.0 V35.0 M376.60 354.6 V340.1 M376.60 20.0 V35.0 M94.0 352.00 H109.0 M445.4 352.00 H430.4 M94.0 301.33 H109.0 M445.4 301.33 H430.4 M94.0 250.66 H109.0 M445.4 250.66 H430.4 M94.0 199.99 H109.0 M445.4 199.99 H430.4 M94.0 149.32 H109.0 M445.4 149.32 H430.4 M94.0 98.65 H109.0 M445.4 98.65 H430.4 M94.0 47.98 H109.0 M445.4 47.98 H430.4" stroke="#000" stroke-width="2" fill="none"/>
<text x="96.40" y="378.7" text-anchor="middle" textLength="24.8" lengthAdjust="spacingAndGlyphs">0.0</text>
<text x="166.55" y="378.7" text-anchor="middle" textLength="24.8" lengthAdjust="spacingAndGlyphs">0.2</text>
<text x="236.70" y="378.7" text-anchor="middle" textLength="24.8" lengthAdjust="spacingAndGlyphs">0.4</text>
<text x="306.85" y="378.7" text-anchor="middle" textLength="24.8" lengthAdjust="spacingAndGlyphs">0.6</text>
<text x="377.00" y="378.7" text-anchor="middle" textLength="24.8" lengthAdjust="spacingAndGlyphs">0.8</text>
<text x="85.8" y="354.90" text-anchor="end" textLength="24.8" lengthAdjust="spacingAndGlyphs">0.0</text>
<text x="85.8" y="304.23" text-anchor="end" textLength="24.8" lengthAdjust="spacingAndGlyphs">0.1</text>
<text x="85.8" y="253.56" text-anchor="end" textLength="24.8" lengthAdjust="spacingAndGlyphs">0.2</text>
<text x="85.8" y="202.89" text-anchor="end" textLength="24.8" lengthAdjust="spacingAndGlyphs">0.3</text>
<text x="85.8" y="152.22" text-anchor="end" textLength="24.8" lengthAdjust="spacingAndGlyphs">0.4</text>
<text x="85.8" y="101.55" text-anchor="end" textLength="24.8" lengthAdjust="spacingAndGlyphs">0.5</text>
<text x="85.8" y="50.88" text-anchor="end" textLength="24.8" lengthAdjust="spacingAndGlyphs">0.6</text>
<text x="269.8" y="405.6" text-anchor="middle" textLength="98" lengthAdjust="spacingAndGlyphs" class="lb">Pulse Phase</text>
<text x="185.3" y="75.1" class="si">i</text>
<text x="198.9" y="75.1" textLength="12" lengthAdjust="spacingAndGlyphs">=</text>
<text x="215.8" y="75.1" textLength="20.8" lengthAdjust="spacingAndGlyphs">90</text>
<text x="236.0" y="69.7" class="sm" textLength="8.1" lengthAdjust="spacingAndGlyphs">o</text>
<text x="243.0" y="75.1">,</text>
<text x="251.5" y="75.1" class="sr" textLength="10.9" lengthAdjust="spacingAndGlyphs">θ</text>
<text x="262.4" y="78.7" class="sm" style="font-size:12px">s</text>
<text x="270.7" y="75.1" textLength="12.6" lengthAdjust="spacingAndGlyphs">=</text>
<text x="288.1" y="75.1" textLength="20.8" lengthAdjust="spacingAndGlyphs">80</text>
<text x="308.1" y="69.7" class="sm" textLength="8.1" lengthAdjust="spacingAndGlyphs">o</text>
<path d="M201.8 116.2 H239.6" stroke="#00d000" stroke-width="1.5" stroke-linecap="round"/>
<path d="M201.4 140.5 H240" stroke="#990000" stroke-width="1.5" stroke-dasharray="2.9 2.43"/>
<path d="M201.4 164.5 H240" stroke="#000" stroke-width="1.5" stroke-dasharray="6.8 6.55"/>
<path d="M201.4 188.6 H240" stroke="#0a38d2" stroke-width="1.6" stroke-dasharray="22.2 1.4 3.1 1.5"/>
<text x="247.4" y="121.30" class="sr" style="font-size:20.5px">ρ</text>
<text x="262.7" y="121.30" textLength="11.4" lengthAdjust="spacingAndGlyphs">=</text>
<text x="278.7" y="121.30" textLength="9.7" lengthAdjust="spacingAndGlyphs">2</text>
<text x="288.1" y="116.10" class="sm" textLength="8.1" lengthAdjust="spacingAndGlyphs">o</text>
<text x="247.4" y="145.43" class="sr" style="font-size:20.5px">ρ</text>
<text x="262.7" y="145.43" textLength="11.4" lengthAdjust="spacingAndGlyphs">=</text>
<text x="278.7" y="145.43" textLength="19.6" lengthAdjust="spacingAndGlyphs">10</text>
<text x="297.5" y="140.23" class="sm" textLength="8.1" lengthAdjust="spacingAndGlyphs">o</text>
<text x="247.4" y="169.56" class="sr" style="font-size:20.5px">ρ</text>
<text x="262.7" y="169.56" textLength="11.4" lengthAdjust="spacingAndGlyphs">=</text>
<text x="278.7" y="169.56" textLength="19.6" lengthAdjust="spacingAndGlyphs">25</text>
<text x="297.5" y="164.36" class="sm" textLength="8.1" lengthAdjust="spacingAndGlyphs">o</text>
<text x="247.4" y="193.69" class="sr" style="font-size:20.5px">ρ</text>
<text x="262.7" y="193.69" textLength="11.4" lengthAdjust="spacingAndGlyphs">=</text>
<text x="278.7" y="193.69" textLength="19.6" lengthAdjust="spacingAndGlyphs">50</text>
<text x="297.5" y="188.49" class="sm" textLength="8.1" lengthAdjust="spacingAndGlyphs">o</text>
</g>
<text transform="translate(33.8 188.1) rotate(-90)" text-anchor="middle" textLength="93.4" lengthAdjust="spacingAndGlyphs" class="lb">Scaled Flux</text>
<g transform="translate(481.2 0)">
<rect x="94.0" y="20.0" width="351.4" height="334.6" fill="none" stroke="#000" stroke-width="2"/>
<path d="M96.00 354.6 V340.1 M96.00 20.0 V35.0 M166.15 354.6 V340.1 M166.15 20.0 V35.0 M236.30 354.6 V340.1 M236.30 20.0 V35.0 M306.45 354.6 V340.1 M306.45 20.0 V35.0 M376.60 354.6 V340.1 M376.60 20.0 V35.0 M94.0 352.00 H109.0 M445.4 352.00 H430.4 M94.0 301.33 H109.0 M445.4 301.33 H430.4 M94.0 250.66 H109.0 M445.4 250.66 H430.4 M94.0 199.99 H109.0 M445.4 199.99 H430.4 M94.0 149.32 H109.0 M445.4 149.32 H430.4 M94.0 98.65 H109.0 M445.4 98.65 H430.4 M94.0 47.98 H109.0 M445.4 47.98 H430.4" stroke="#000" stroke-width="2" fill="none"/>
<text x="96.40" y="378.7" text-anchor="middle" textLength="24.8" lengthAdjust="spacingAndGlyphs">0.0</text>
<text x="166.55" y="378.7" text-anchor="middle" textLength="24.8" lengthAdjust="spacingAndGlyphs">0.2</text>
<text x="236.70" y="378.7" text-anchor="middle" textLength="24.8" lengthAdjust="spacingAndGlyphs">0.4</text>
<text x="306.85" y="378.7" text-anchor="middle" textLength="24.8" lengthAdjust="spacingAndGlyphs">0.6</text>
<text x="377.00" y="378.7" text-anchor="middle" textLength="24.8" lengthAdjust="spacingAndGlyphs">0.8</text>
<text x="85.8" y="354.90" text-anchor="end" textLength="24.8" lengthAdjust="spacingAndGlyphs">0.0</text>
<text x="85.8" y="304.23" text-anchor="end" textLength="24.8" lengthAdjust="spacingAndGlyphs">0.1</text>
<text x="85.8" y="253.56" text-anchor="end" textLength="24.8" lengthAdjust="spacingAndGlyphs">0.2</text>
<text x="85.8" y="202.89" text-anchor="end" textLength="24.8" lengthAdjust="spacingAndGlyphs">0.3</text>
<text x="85.8" y="152.22" text-anchor="end" textLength="24.8" lengthAdjust="spacingAndGlyphs">0.4</text>
<text x="85.8" y="101.55" text-anchor="end" textLength="24.8" lengthAdjust="spacingAndGlyphs">0.5</text>
<text x="85.8" y="50.88" text-anchor="end" textLength="24.8" lengthAdjust="spacingAndGlyphs">0.6</text>
<text x="269.8" y="405.6" text-anchor="middle" textLength="98" lengthAdjust="spacingAndGlyphs" class="lb">Pulse Phase</text>
<text x="185.3" y="75.1" class="si">i</text>
<text x="198.9" y="75.1" textLength="12" lengthAdjust="spacingAndGlyphs">=</text>
<text x="215.8" y="75.1" textLength="20.8" lengthAdjust="spacingAndGlyphs">70</text>
<text x="236.0" y="69.7" class="sm" textLength="8.1" lengthAdjust="spacingAndGlyphs">o</text>
<text x="243.0" y="75.1">,</text>
<text x="251.5" y="75.1" class="sr" textLength="10.9" lengthAdjust="spacingAndGlyphs">θ</text>
<text x="262.4" y="78.7" class="sm" style="font-size:12px">s</text>
<text x="270.7" y="75.1" textLength="12.6" lengthAdjust="spacingAndGlyphs">=</text>
<text x="288.1" y="75.1" textLength="20.8" lengthAdjust="spacingAndGlyphs">40</text>
<text x="308.1" y="69.7" class="sm" textLength="8.1" lengthAdjust="spacingAndGlyphs">o</text>
<path d="M201.8 116.2 H239.6" stroke="#00d000" stroke-width="1.5" stroke-linecap="round"/>
<path d="M201.4 140.5 H240" stroke="#990000" stroke-width="1.5" stroke-dasharray="2.9 2.43"/>
<path d="M201.4 164.5 H240" stroke="#000" stroke-width="1.5" stroke-dasharray="6.8 6.55"/>
<path d="M201.4 188.6 H240" stroke="#0a38d2" stroke-width="1.6" stroke-dasharray="22.2 1.4 3.1 1.5"/>
<text x="247.4" y="121.30" class="sr" style="font-size:20.5px">ρ</text>
<text x="262.7" y="121.30" textLength="11.4" lengthAdjust="spacingAndGlyphs">=</text>
<text x="278.7" y="121.30" textLength="9.7" lengthAdjust="spacingAndGlyphs">2</text>
<text x="288.1" y="116.10" class="sm" textLength="8.1" lengthAdjust="spacingAndGlyphs">o</text>
<text x="247.4" y="145.43" class="sr" style="font-size:20.5px">ρ</text>
<text x="262.7" y="145.43" textLength="11.4" lengthAdjust="spacingAndGlyphs">=</text>
<text x="278.7" y="145.43" textLength="19.6" lengthAdjust="spacingAndGlyphs">10</text>
<text x="297.5" y="140.23" class="sm" textLength="8.1" lengthAdjust="spacingAndGlyphs">o</text>
<text x="247.4" y="169.56" class="sr" style="font-size:20.5px">ρ</text>
<text x="262.7" y="169.56" textLength="11.4" lengthAdjust="spacingAndGlyphs">=</text>
<text x="278.7" y="169.56" textLength="19.6" lengthAdjust="spacingAndGlyphs">25</text>
<text x="297.5" y="164.36" class="sm" textLength="8.1" lengthAdjust="spacingAndGlyphs">o</text>
<text x="247.4" y="193.69" class="sr" style="font-size:20.5px">ρ</text>
<text x="262.7" y="193.69" textLength="11.4" lengthAdjust="spacingAndGlyphs">=</text>
<text x="278.7" y="193.69" textLength="19.6" lengthAdjust="spacingAndGlyphs">50</text>
<text x="297.5" y="188.49" class="sm" textLength="8.1" lengthAdjust="spacingAndGlyphs">o</text>
</g>
<text transform="translate(528.8 186.9) rotate(-90)" text-anchor="middle" textLength="93.4" lengthAdjust="spacingAndGlyphs" class="lb">Scaled Flux</text>
</svg>
</body></html>
